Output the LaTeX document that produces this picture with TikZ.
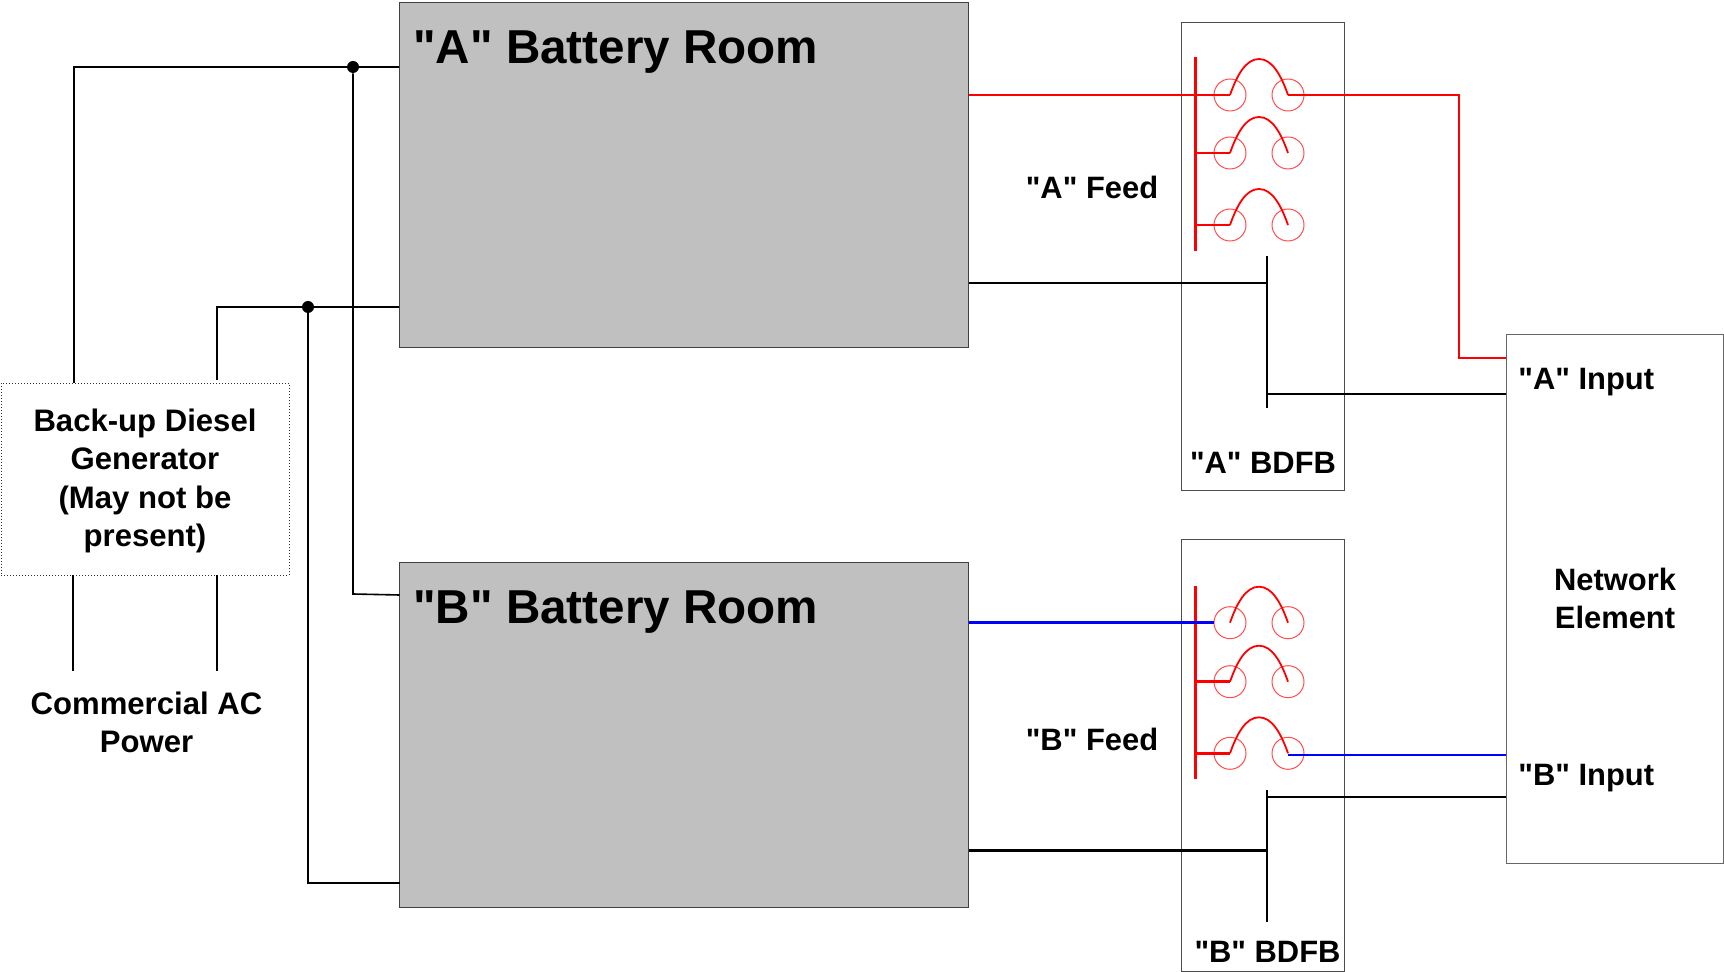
\documentclass[tikz,border=0pt]{standalone}
\usepackage{fontspec}
\setmainfont{Liberation Sans}[Ligatures=TeXOff]
\definecolor{roomgrey}{HTML}{C0C0C0}
\definecolor{feedblue}{HTML}{0000FF}
\definecolor{feedred}{HTML}{FF0000}
\tikzset{
  x=0.5pt,y=-0.5pt,
  room/.style={draw=black!75,line width=0.5pt,fill=roomgrey,minimum width=284.5pt,minimum height=#1,inner sep=0pt},
  panel/.style={draw=black!70,line width=0.5pt,minimum width=81.5pt,minimum height=#1,inner sep=0pt},
  gen/.style={draw=black!80,line width=0.5pt,densely dotted,fill=white,minimum width=144pt,minimum height=96pt,inner sep=0pt},
  elem/.style={draw=black!60,line width=0.5pt,minimum width=108.5pt,minimum height=264.5pt,inner sep=0pt},
  title/.style={font=\bfseries\fontsize{23.8}{28}\selectfont,anchor=west,inner sep=0pt},
  lab/.style={font=\bfseries\fontsize{15.45}{19.25}\selectfont,align=center,inner sep=0pt},
  biglab/.style={font=\bfseries\fontsize{15.55}{19.25}\selectfont,align=center,inner sep=0pt},
  wire/.style={draw=black,line width=0.8pt},
  thick wire/.style={draw=black,line width=1.5pt},
  redwire/.style={draw=feedred,line width=1pt},
  bluewire/.style={draw=feedblue,line width=1pt},
  bus/.style={draw=feedred,line width=1.5pt},
  tap/.style={draw=feedred,line width=1.4pt},
  contact/.style={circle,draw=feedred!70,line width=0.5pt,minimum size=16pt,inner sep=0pt},
  strap/.style={draw=feedred,line width=0.9pt},
  dot/.style={circle,fill=black,minimum size=6pt,inner sep=0pt},
}
\newcommand{\breaker}[3]{%
  \node[contact] (#1l) at (#2,#3) {};
  \node[contact] (#1r) at (#2+58,#3) {};
  \path[strap] (#1l.center) .. controls (#2+7,#3-20) and (#2+16,#3-36) .. (#2+29,#3-36)
     .. controls (#2+42,#3-36) and (#2+51,#3-20) .. (#1r.center);
}
\begin{document}
\begin{tikzpicture}
\useasboundingbox (0,0) rectangle (1724,972);
% boxes
\node[room=172.5pt] (roomA) at (683.5,175.5) {};
\node[room=172.5pt] (roomB) at (683.5,735) {};
\node[panel=234pt] (bdfbA) at (1263.2,257) {};
\node[panel=216pt] (bdfbB) at (1263.2,755.5) {};
\node[elem] (ne) at (1614.5,599) {};
\node[gen] (genset) at (145,479.5) {};
% labels
\node[title] (tA) at (413,52) {"A" Battery Room};
\node[title] (tB) at (413,612) {"B" Battery Room};
\node[biglab] (lgen) at (145,481) {Back-up Diesel\\Generator\\(May not be\\present)};
\node[biglab] (lac) at (146.5,722.5) {Commercial AC\\Power};
\node[lab] (lfa) at (1092,187) {"A" Feed};
\node[lab] (lfb) at (1092,739) {"B" Feed};
\node[lab] (lba) at (1263,463) {"A" BDFB};
\node[lab] (lbb) at (1267.5,952) {"B" BDFB};
\node[lab,anchor=west] (lia) at (1518,382.5) {"A" Input};
\node[lab,anchor=west] (lib) at (1518,778.5) {"B" Input};
\node[lab] (lne) at (1615,598.5) {Network\\Element};
% junctions and free ends
\node[dot] (j1) at (353,67) {};
\node[dot] (j2) at (308,307) {};
\coordinate (acL) at (73,671);
\coordinate (acR) at (217,671);
\coordinate (gtL) at (74,383);
\coordinate (gtR) at (217,380);
\coordinate (gbL) at (73,575);
\coordinate (gbR) at (217,575);
% AC wiring
\draw[wire] (gtL) -- (gtL |- j1) -- (j1) -- (j1 -| roomA.west);
\draw[wire] (gtR) -- (gtR |- j2) -- (j2) -- (j2 -| roomA.west);
\draw[wire] (gbL) -- (acL);
\draw[wire] (gbR) -- (acR);
\coordinate (bTop) at (399.5,595);
\coordinate (bBot) at (399.5,883);
\draw[wire] (j1) -- (353,594) -- (bTop);
\draw[wire] (j2) -- (308,883) -- (bBot);
% A BDFB
\coordinate (aBusT) at (1195,57);
\coordinate (aBusB) at (1195,251);
\breaker{a1}{1230}{95}
\breaker{a2}{1230}{153}
\breaker{a3}{1230}{225}
\path[bus] (aBusT) -- (aBusB);
\path[tap] (a1l.center -| roomA.east) -- (a1l.center);
\path[tap] (a2l.center -| aBusT) -- (a2l.center);
\path[tap] (a3l.center -| aBusT) -- (a3l.center);
\coordinate (aRet) at (1459,358.5);
\path[redwire] (a1r.center) -- (aRet |- a1r.center) -- (aRet) -- (aRet -| ne.west);
\coordinate (aBarT) at (1266.7,256);
\coordinate (aBarB) at (1266.7,408);
\draw[wire,line width=1.2pt] (aBarT) -- (aBarB);
\coordinate (aBlk) at (1266.7,283);
\draw[wire] (aBlk -| roomA.east) -- (aBlk);
\coordinate (aRtn) at (1266.7,394);
\draw[wire] (aRtn) -- (aRtn -| ne.west);
% B BDFB
\coordinate (bBusT) at (1195,586);
\coordinate (bBusB) at (1195,779);
\breaker{b1}{1230}{622.7}
\breaker{b2}{1230}{681.7}
\breaker{b3}{1230}{753.3}
\path[bus] (bBusT) -- (bBusB);
\path[bluewire,line width=1.3pt] (b1l.center -| roomB.east) -- (b1l.west);
\path[tap] (b2l.center -| bBusT) -- (b2l.center);
\path[tap] (b3l.center -| bBusT) -- (b3l.center);
\coordinate (bOut) at (1288,754.5);
\path[bluewire] (bOut) -- (bOut -| ne.west);
\coordinate (bBarT) at (1266.7,790);
\coordinate (bBarB) at (1266.7,922);
\draw[wire,line width=1.2pt] (bBarT) -- (bBarB);
\coordinate (bBlk) at (1266.7,850);
\draw[thick wire] (bBlk -| roomB.east) -- (bBlk);
\coordinate (bRtn) at (1266.7,797);
\draw[wire] (bRtn) -- (bRtn -| ne.west);
\end{tikzpicture}
\end{document}
